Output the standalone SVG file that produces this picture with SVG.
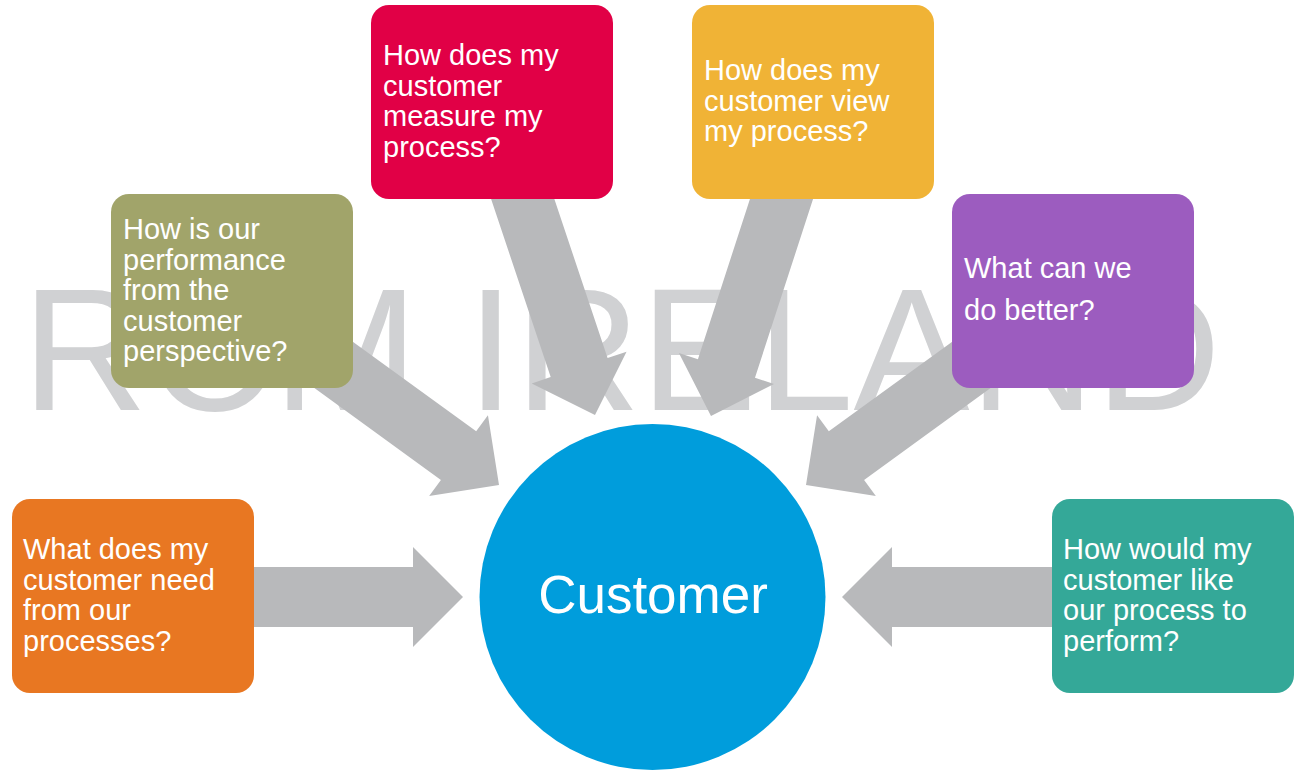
<svg xmlns="http://www.w3.org/2000/svg" width="1294" height="770" viewBox="0 0 1294 770">
  <defs>
    <style>
      .wm { font-family: "Liberation Sans", Arial, sans-serif; font-size: 174px; fill: #D0D1D3; }
      .arrow { fill: #B8B9BB; }
      .box text { font-family: "Liberation Sans", Arial, sans-serif; font-size: 29px; fill: #FFFFFF; }
      .center-label { font-family: "Liberation Sans", Arial, sans-serif; font-size: 53px; fill: #FFFFFF; }
    </style>
  </defs>
  <rect x="0" y="0" width="1294" height="770" fill="#FFFFFF"/>

  <text class="wm" x="22" y="410">RCM IRELAND</text>

  <g id="connectors">
    <path class="arrow" transform="translate(463,597)" d="M0,0 L-50,-50 L-50,-30 L-213,-30 L-213,30 L-50,30 L-50,50 Z"/>
    <path class="arrow" transform="translate(842,597) rotate(180)" d="M0,0 L-50,-50 L-50,-30 L-215,-30 L-215,30 L-50,30 L-50,50 Z"/>
    <path class="arrow" transform="translate(499,485) rotate(36)" d="M0,0 L-50,-50 L-50,-30 L-220,-30 L-220,30 L-50,30 L-50,50 Z"/>
    <path class="arrow" transform="translate(806,485) rotate(144)" d="M0,0 L-50,-50 L-50,-30 L-220,-30 L-220,30 L-50,30 L-50,50 Z"/>
    <path class="arrow" transform="translate(595,415) rotate(71.5)" d="M0,0 L-50,-50 L-50,-30 L-280,-30 L-280,30 L-50,30 L-50,50 Z"/>
    <path class="arrow" transform="translate(711,416) rotate(108)" d="M0,0 L-50,-50 L-50,-30 L-280,-30 L-280,30 L-50,30 L-50,50 Z"/>
  </g>

  <g id="node-need" class="box">
    <rect x="12" y="499" width="242" height="194" rx="18" fill="#E87722"/>
    <text x="23" y="559">What does my</text>
    <text x="23" y="589.5">customer need</text>
    <text x="23" y="620">from our</text>
    <text x="23" y="650.5">processes?</text>
  </g>

  <g id="node-performance" class="box">
    <rect x="111" y="194" width="242" height="194" rx="18" fill="#A1A46A"/>
    <text x="123" y="239">How is our</text>
    <text x="123" y="269.5">performance</text>
    <text x="123" y="300">from the</text>
    <text x="123" y="330.5">customer</text>
    <text x="123" y="361">perspective?</text>
  </g>

  <g id="node-measure" class="box">
    <rect x="371" y="5" width="242" height="194" rx="18" fill="#E10046"/>
    <text x="383" y="65">How does my</text>
    <text x="383" y="95.5">customer</text>
    <text x="383" y="126">measure my</text>
    <text x="383" y="156.5">process?</text>
  </g>

  <g id="node-view" class="box">
    <rect x="692" y="5" width="242" height="194" rx="18" fill="#F0B336"/>
    <text x="704" y="80">How does my</text>
    <text x="704" y="110.5">customer view</text>
    <text x="704" y="141">my process?</text>
  </g>

  <g id="node-better" class="box">
    <rect x="952" y="194" width="242" height="194" rx="18" fill="#9C5CBF"/>
    <text x="964" y="278">What can we</text>
    <text x="964" y="320">do better?</text>
  </g>

  <g id="node-like" class="box">
    <rect x="1052" y="499" width="242" height="194" rx="18" fill="#34A898"/>
    <text x="1063" y="559">How would my</text>
    <text x="1063" y="589.5">customer like</text>
    <text x="1063" y="620">our process to</text>
    <text x="1063" y="650.5">perform?</text>
  </g>

  <g id="node-customer">
    <circle cx="652.5" cy="597" r="173" fill="#009DDC"/>
    <text class="center-label" x="653" y="613" text-anchor="middle">Customer</text>
  </g>
</svg>
